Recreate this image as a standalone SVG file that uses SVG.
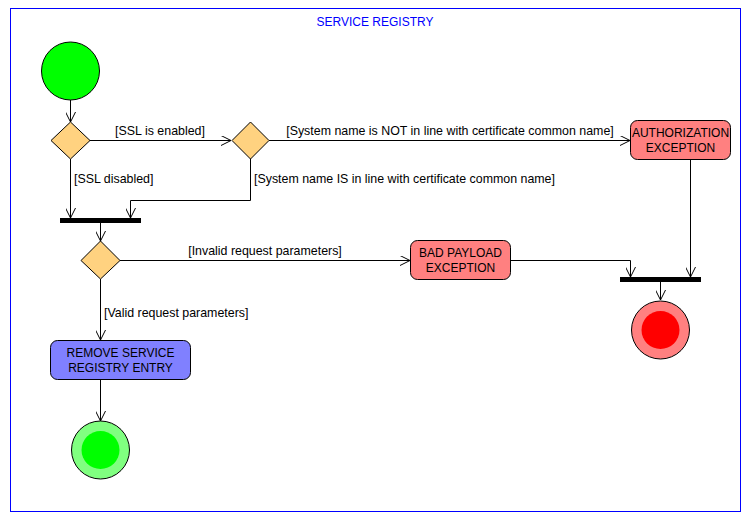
<svg xmlns="http://www.w3.org/2000/svg" width="750" height="520" viewBox="0 0 750 520">
<style>
text{font-family:"Liberation Sans",Arial,sans-serif;font-size:12.4px;fill:#000}
.c{text-anchor:middle}
.n{font-size:12px}
.e{fill:none;stroke:#000;stroke-width:1}
.dia{fill:#FFD280;stroke:#000;stroke-width:1}
.bar{fill:#000}
.box{stroke:#000;stroke-width:1}
</style>
<defs>
<marker id="a" viewBox="0 0 10 10" refX="10" refY="5" markerWidth="10" markerHeight="10" markerUnits="userSpaceOnUse" orient="auto">
<path d="M0,0 L10,5 L0,10" fill="none" stroke="#000" stroke-width="1"/>
</marker>
</defs>
<rect x="10.5" y="8.5" width="730" height="503" fill="#fff" stroke="#0000FF" stroke-width="1"/>
<text x="375" y="26" class="c n" style="fill:#0000FF">SERVICE REGISTRY</text>

<g id="connectors">
<path class="e" d="M70.5,100 V122" marker-end="url(#a)"/>
<path class="e" d="M90,140.5 H231" marker-end="url(#a)"/>
<text x="160" y="135" class="c">[SSL is enabled]</text>
<path class="e" d="M70.5,159 V218" marker-end="url(#a)"/>
<text x="74" y="183">[SSL disabled]</text>
<path class="e" d="M269,140.5 H630" marker-end="url(#a)"/>
<text x="450" y="135" class="c">[System name is NOT in line with certificate common name]</text>
<path class="e" d="M250.5,159 V200.5 H130.5 V218" marker-end="url(#a)"/>
<text x="254" y="183">[System name IS in line with certificate common name]</text>
<path class="e" d="M100.5,223 V241" marker-end="url(#a)"/>
<path class="e" d="M120,260.5 H410" marker-end="url(#a)"/>
<text x="265" y="255" class="c">[Invalid request parameters]</text>
<path class="e" d="M100.5,279 V340" marker-end="url(#a)"/>
<text x="104" y="317">[Valid request parameters]</text>
<path class="e" d="M100.5,380 V421" marker-end="url(#a)"/>
<path class="e" d="M511,260.5 H630.5 V277" marker-end="url(#a)"/>
<path class="e" d="M690.5,160 V277" marker-end="url(#a)"/>
<path class="e" d="M660.5,282 V300" marker-end="url(#a)"/>
</g>

<g id="start"><circle cx="70.5" cy="71" r="29" fill="#00FF00" stroke="#000"/></g>
<g id="d1"><path class="dia" d="M70.5,122 L90,140.5 L70.5,159 L51,140.5 Z"/></g>
<g id="d2"><path class="dia" d="M250.5,122 L269,140.5 L250.5,159 L232,140.5 Z"/></g>
<g id="auth"><rect class="box" x="630.5" y="120.5" width="100" height="39" rx="7" fill="#FF8080"/>
<text x="680.5" y="137" class="c n">AUTHORIZATION</text><text x="680.5" y="152" class="c n">EXCEPTION</text></g>
<g id="bar1"><rect class="bar" x="60" y="218" width="81" height="5"/></g>
<g id="d3"><path class="dia" d="M100.5,241 L120,260.5 L100.5,279 L81,260.5 Z"/></g>
<g id="bad"><rect class="box" x="410.5" y="240.5" width="100" height="39" rx="7" fill="#FF8080"/>
<text x="460.5" y="257" class="c n">BAD PAYLOAD</text><text x="460.5" y="272" class="c n">EXCEPTION</text></g>
<g id="bar2"><rect class="bar" x="620" y="277" width="81" height="5"/></g>
<g id="endErr"><circle cx="660.5" cy="330" r="29" fill="#FF8080" stroke="#000"/><circle cx="660.5" cy="330" r="19" fill="#FF0000"/></g>
<g id="remove"><rect class="box" x="50.5" y="340.5" width="140" height="39" rx="7" fill="#8080FF"/>
<text x="120.5" y="357" class="c n">REMOVE SERVICE</text><text x="120.5" y="372" class="c n">REGISTRY ENTRY</text></g>
<g id="endOk"><circle cx="100.5" cy="450" r="29" fill="#80FF80" stroke="#000"/><circle cx="100.5" cy="450" r="19" fill="#00FF00"/></g>
</svg>
